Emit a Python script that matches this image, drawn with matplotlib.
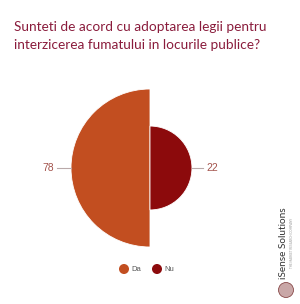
import numpy as np
import matplotlib

matplotlib.use("Agg")
import matplotlib.pyplot as plt
from matplotlib.patches import Wedge, Circle

# data
categories = ["Da", "Nu"]
values = [78, 22]
colors = ["#c24e20", "#8c0a0c"]
title = "Sunteti de acord cu adoptarea legii pentru\ninterzicerea fumatului in locurile publice?"

W, H = 300, 304
fig = plt.figure(figsize=(W / 100, H / 100), dpi=100)
ax = fig.add_axes([0, 0, 1, 1])
ax.set_xlim(0, W)
ax.set_ylim(H, 0)
ax.set_aspect("equal")
ax.axis("off")

plt.rcParams["font.family"] = ["Lato", "DejaVu Sans"]

ax.text(14, 36, title, ha="left", va="center", fontsize=9.8,
        color="#8a1c3c", linespacing=1.6)

# polar-area pie: equal angles, area ~ value
cx, cy = 150, 168
k = 79 / np.sqrt(max(values))
span = 360 / len(values)
starts = [90, -90]
for v, c, a0 in zip(values, colors, starts):
    r = k * np.sqrt(v)
    ax.add_patch(Wedge((cx, cy), r, a0, a0 + span, facecolor=c,
                       edgecolor="white", linewidth=0.6))

# value labels with leader lines
r0 = k * np.sqrt(values[0])
r1 = k * np.sqrt(values[1])
ax.plot([cx - r0 - 14, cx - r0], [cy, cy], color="#b9a9a9", lw=0.8)
ax.text(cx - r0 - 17, cy, str(values[0]), ha="right", va="center",
        fontsize=7.5, color="#a3524b", family=["Liberation Sans"])
ax.plot([cx + r1, cx + r1 + 11], [cy, cy], color="#b9a9a9", lw=0.8)
ax.text(cx + r1 + 14, cy, str(values[1]), ha="left", va="center",
        fontsize=7.5, color="#a3524b", family=["Liberation Sans"])

# legend
lx = [124, 157]
for x, c, lab in zip(lx, colors, categories):
    ax.add_patch(Circle((x, 269), 4.3, color=c))
    ax.text(x + 7, 269.5, lab, ha="left", va="center", fontsize=5.5,
            color="#555555", family=["Liberation Sans"])

# logo
ax.text(284, 243, "iSense Solutions", rotation=90, ha="center", va="center",
        fontsize=7.2, color="#333333")
ax.text(292, 243, "THE MARKET RESEARCH COMPANY", rotation=90, ha="center",
        va="center", fontsize=2.2, color="#999999")
ax.add_patch(Circle((286, 290), 7.5, facecolor="#c9a7a7", edgecolor="#8a4a4a",
                    linewidth=0.6))

fig.savefig("out.png", dpi=100)
